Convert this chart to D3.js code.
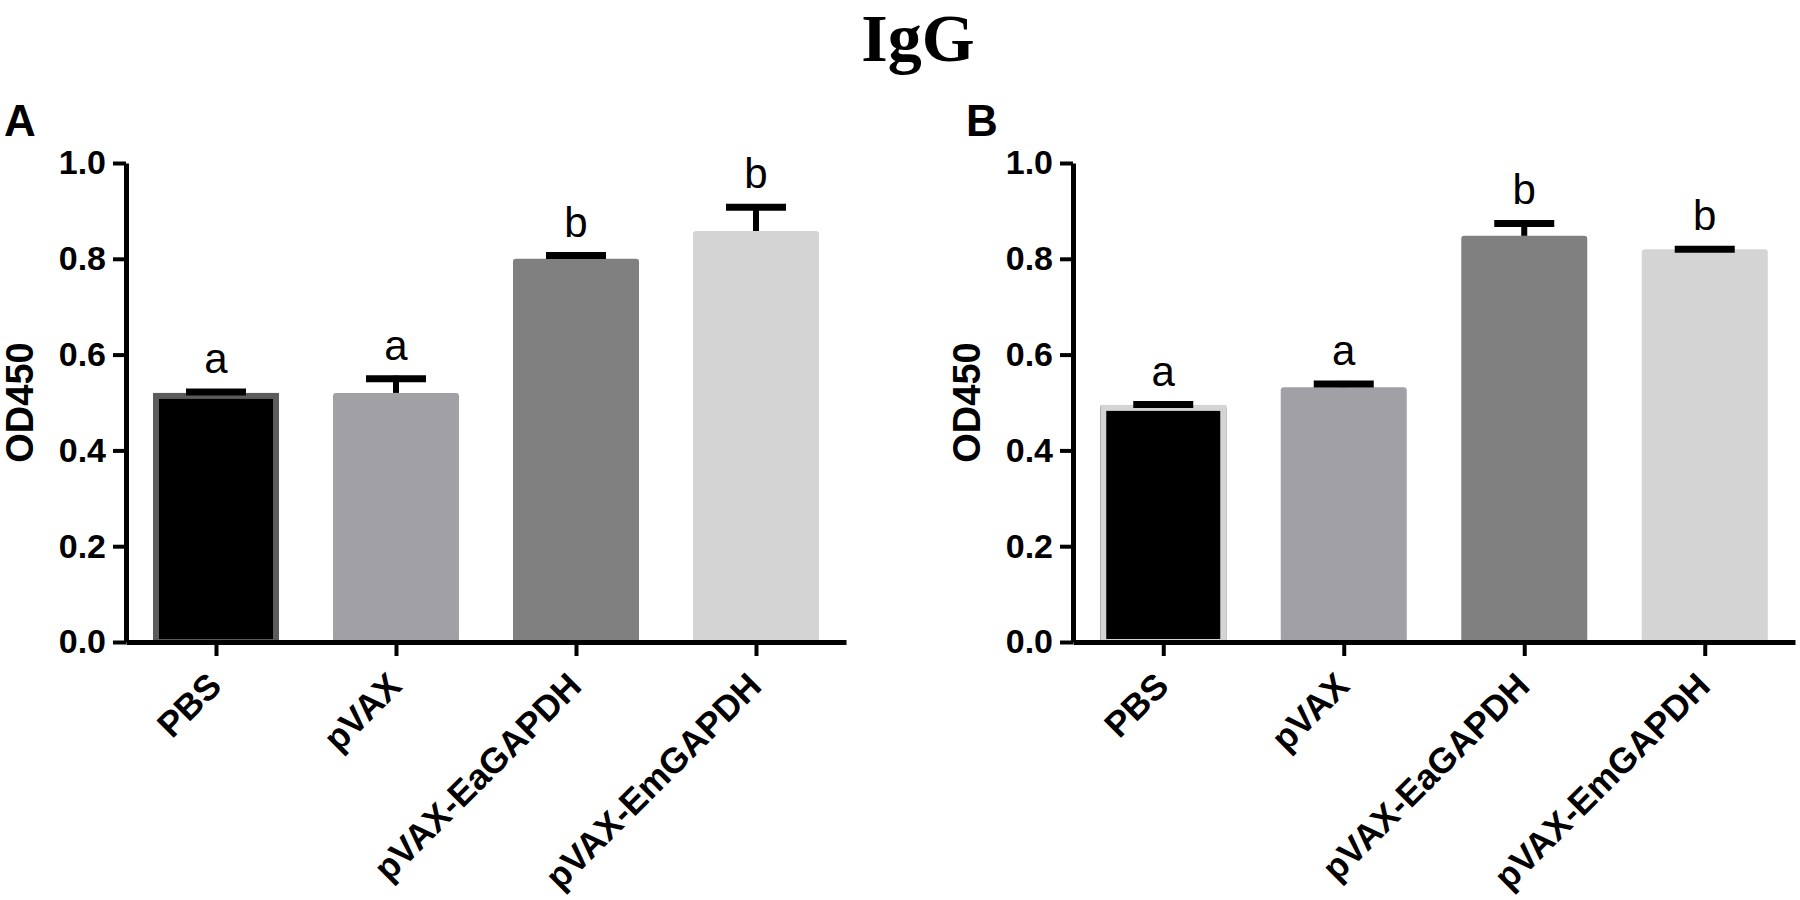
<!DOCTYPE html>
<html>
<head>
<meta charset="utf-8">
<script src="https://cdn.jsdelivr.net/npm/d3@7"></script>
<style>
  body { margin: 0; background: #fff; }
  svg { display: block; }
</style>
</head>
<body>
<div id="chart"></div>
<script>
// data
const categories = ['PBS', 'pVAX', 'pVAX-EaGAPDH', 'pVAX-EmGAPDH'];
const valuesA = [0.520, 0.520, 0.800, 0.858];
const errorsA = [0.008, 0.036, 0.013, 0.056];
const lettersA = ['a', 'a', 'b', 'b'];
const valuesB = [0.495, 0.532, 0.848, 0.820];
const errorsB = [0.007, 0.013, 0.032, 0.006];
const lettersB = ['a', 'a', 'b', 'b'];
const yTicks = [0.0, 0.2, 0.4, 0.6, 0.8, 1.0];

const barColors = ['#000000', '#a1a1a5', '#808080', '#d4d4d4'];

const width = 1800;
const height = 900;

const svg = d3.select('#chart').append('svg')
    .attr('width', width)
    .attr('height', height);

// title
svg.append('text')
    .attr('x', 918)
    .attr('y', 61)
    .attr('text-anchor', 'middle')
    .style('font-family', '"Liberation Serif", "Times New Roman", serif')
    .style('font-weight', 'bold')
    .style('font-size', '68px')
    .text('IgG');

const y = d3.scaleLinear()
    .domain([0, 1])
    .range([642, 163]);

function drawPanel(label, left, right, values, errors, letters, pbsBorder, labelX) {
    const g = svg.append('g');

    const x = d3.scalePoint()
        .domain(categories)
        .range([left, right])
        .padding(0.5);

    const barW = 126;
    const rows = categories.map((c, i) => ({
        name: c, value: values[i], err: errors[i], letter: letters[i], color: barColors[i]
    }));

    // bars
    g.selectAll('rect.bar')
        .data(rows)
        .enter().append('rect')
        .attr('class', 'bar')
        .attr('x', d => x(d.name) - barW / 2)
        .attr('y', d => y(d.value))
        .attr('width', barW)
        .attr('height', d => y(0) - y(d.value))
        .attr('rx', 3)
        .attr('fill', d => d.color);

    // the PBS bar has an outline in a different grey
    const pbs = rows[0];
    g.append('rect')
        .attr('x', x(pbs.name) - barW / 2 + 3)
        .attr('y', y(pbs.value) + 3)
        .attr('width', barW - 6)
        .attr('height', y(0) - y(pbs.value) - 3)
        .attr('fill', 'none')
        .attr('stroke', pbsBorder)
        .attr('stroke-width', 6);

    // error bars (upper only)
    g.selectAll('line.err')
        .data(rows)
        .enter().append('line')
        .attr('class', 'err')
        .attr('x1', d => x(d.name))
        .attr('x2', d => x(d.name))
        .attr('y1', d => y(d.value))
        .attr('y2', d => y(d.value + d.err))
        .attr('stroke', '#000')
        .attr('stroke-width', 6);

    g.selectAll('line.cap')
        .data(rows)
        .enter().append('line')
        .attr('class', 'cap')
        .attr('x1', d => x(d.name) - 30)
        .attr('x2', d => x(d.name) + 30)
        .attr('y1', d => y(d.value + d.err) + 3)
        .attr('y2', d => y(d.value + d.err) + 3)
        .attr('stroke', '#000')
        .attr('stroke-width', 7);

    // significance letters
    g.selectAll('text.letter')
        .data(rows)
        .enter().append('text')
        .attr('class', 'letter')
        .attr('x', d => x(d.name))
        .attr('y', d => y(d.value + d.err) - 16)
        .attr('text-anchor', 'middle')
        .style('font-family', '"Liberation Sans", Arial, sans-serif')
        .style('font-size', '42px')
        .text(d => d.letter);

    // y axis
    const yAxis = g.append('g')
        .attr('transform', `translate(${left},0)`)
        .call(d3.axisLeft(y).tickValues(yTicks).tickFormat(d3.format('.1f'))
            .tickSize(13).tickSizeOuter(0).tickPadding(7));

    // x axis
    const xAxis = g.append('g')
        .attr('transform', `translate(0,${y(0)})`)
        .call(d3.axisBottom(x).tickSize(14).tickSizeOuter(0));

    [yAxis, xAxis].forEach(a => {
        a.select('.domain').attr('stroke-width', 5).attr('stroke', '#000');
        a.selectAll('.tick line').attr('stroke-width', 4).attr('stroke', '#000');
        a.selectAll('text')
            .attr('fill', '#000')
            .style('font-family', '"Liberation Sans", Arial, sans-serif')
            .style('font-weight', 'bold');
    });
    yAxis.selectAll('text').style('font-size', '34px');
    // rotated category labels, end of text just below-right of the tick
    xAxis.selectAll('text')
        .style('font-size', '35.5px')
        .attr('text-anchor', 'end')
        .attr('x', 0)
        .attr('y', 0)
        .attr('dy', 0)
        .attr('transform', 'translate(7,46) rotate(-45)');

    // y axis title
    g.append('text')
        .attr('transform', `translate(${left - 93},${(y(0) + y(1)) / 2}) rotate(-90)`)
        .attr('text-anchor', 'middle')
        .style('font-family', '"Liberation Sans", Arial, sans-serif')
        .style('font-weight', 'bold')
        .style('font-size', '38px')
        .text('OD450');

    // panel letter
    g.append('text')
        .attr('x', labelX)
        .attr('y', 136)
        .style('font-family', '"Liberation Sans", Arial, sans-serif')
        .style('font-weight', 'bold')
        .style('font-size', '44px')
        .text(label);
}

drawPanel('A', 126, 846, valuesA, errorsA, lettersA, '#5c5c5c', 4);
drawPanel('B', 1073, 1795, valuesB, errorsB, lettersB, '#d4d4d4', 966);
</script>
</body>
</html>
